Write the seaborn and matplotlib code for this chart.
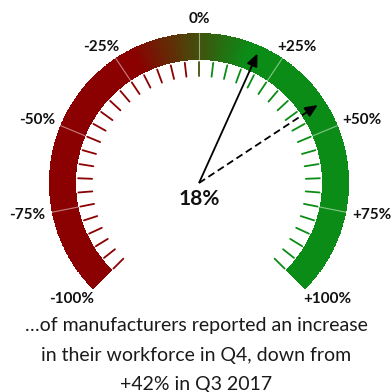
import numpy as np
import pandas as pd
import matplotlib
matplotlib.use("Agg")
import matplotlib.pyplot as plt
import seaborn as sns
from matplotlib.colors import LinearSegmentedColormap, Normalize

# Gauge readings (percentage balance)
current_value = 18
previous_value = 42

# Scale: minor ticks every 5 points, labelled every 25
scale_ticks = list(range(-100, 101, 5))
label_values = [-100, -75, -50, -25, 0, 25, 50, 75, 100]
label_texts = ["-100%", "-75%", "-50%", "-25%", "0%", "+25%", "+50%", "+75%", "+100%"]

caption_lines = [
    "\u2026of manufacturers reported an increase",
    "in their workforce in Q4, down from",
    "+42% in Q3 2017",
]

RED = "#8b0000"
GREEN = "#0b8c16"
SWEEP = 135  # degrees either side of vertical for +/-100

sns.set_theme(style="white")
plt.rcParams["font.family"] = ["Lato", "DejaVu Sans"]

W, H = 391, 392
cx, cy = 199, 183          # gauge centre in pixels
RMAX = 175

fig = plt.figure(figsize=(W / 100, H / 100), dpi=100)
fig.patch.set_facecolor("white")
ax = fig.add_axes([(cx - RMAX) / W, (H - cy - RMAX) / H, 2 * RMAX / W, 2 * RMAX / H],
                  projection="polar")
ax.set_theta_zero_location("N")
ax.set_theta_direction(-1)
ax.set_ylim(0, RMAX)
ax.set_axis_off()


def ang(v):
    return np.deg2rad(np.asarray(v, dtype=float) * SWEEP / 100.0)


norm = Normalize(-100, 100)
cmap = LinearSegmentedColormap.from_list(
    "gauge", [(0.0, RED), (0.40, RED), (0.575, GREEN), (1.0, GREEN)])

# Coloured band
R_IN, R_OUT = 123, 150
edges = np.linspace(-100, 100, 801)
T, R = np.meshgrid(ang(edges), [R_IN, R_OUT])
C = ((edges[:-1] + edges[1:]) / 2)[None, :]
ax.pcolormesh(T, R, C, cmap=cmap, norm=norm, shading="flat")

# Thin separators at the labelled positions
for v in label_values[1:-1]:
    ax.plot([ang(v)] * 2, [R_IN, R_OUT], color="white", alpha=0.5, lw=0.8)

# Minor ticks inside the band
tick_df = pd.DataFrame({
    "value": np.repeat(scale_ticks, 2),
    "theta": ang(np.repeat(scale_ticks, 2)),
    "r": np.tile([107, 121], len(scale_ticks)),
})
tick_palette = {v: (RED if v < 0 else GREEN if v > 0 else cmap(norm(0))) for v in scale_ticks}
sns.lineplot(data=tick_df, x="theta", y="r", hue="value", estimator=None,
             palette=tick_palette, legend=False, sort=False, lw=1.3, ax=ax)
ax.set_axis_off()

# Needles: current (solid) and previous quarter (dashed)
for value, style in [(current_value, "-"), (previous_value, (0, (4, 2.2)))]:
    th = float(ang(value))
    ax.plot([th, th], [0, 133], color="black", lw=1.3, linestyle=style,
            solid_capstyle="butt")
    ax.annotate("", xy=(th, 142), xytext=(th, 131),
                arrowprops=dict(arrowstyle="-|>,head_length=0.75,head_width=0.33",
                                color="black", lw=1.3, shrinkA=0, shrinkB=0,
                                mutation_scale=10))

ax.text(np.pi, 16, f"{current_value}%", ha="center", va="center",
        fontsize=15, fontweight="bold", color="#111111")

# Scale labels, pushed outward by half their extent
labels = []
for v, lab in zip(label_values, label_texts):
    t = ax.annotate(lab, xy=(float(ang(v)), 157), xytext=(0, 0),
                    textcoords="offset points", ha="center", va="center",
                    fontsize=11, fontweight="bold", color="#111111",
                    annotation_clip=False)
    labels.append((v, t))

fig.canvas.draw()
renderer = fig.canvas.get_renderer()
for v, t in labels:
    bb = t.get_window_extent(renderer)
    th = float(ang(v))
    dx = bb.width / 2 * np.sin(th)
    dy = bb.height / 2 * np.cos(th)
    t.xyann = (dx * 72 / 100, dy * 72 / 100)

# Caption
for i, line in enumerate(caption_lines):
    fig.text(196 / W, 1 - (331 + 29.5 * i) / H, line, ha="center", va="baseline",
             fontsize=14, color="#1a1a1a")

fig.savefig("out.png", dpi=100, facecolor="white")
